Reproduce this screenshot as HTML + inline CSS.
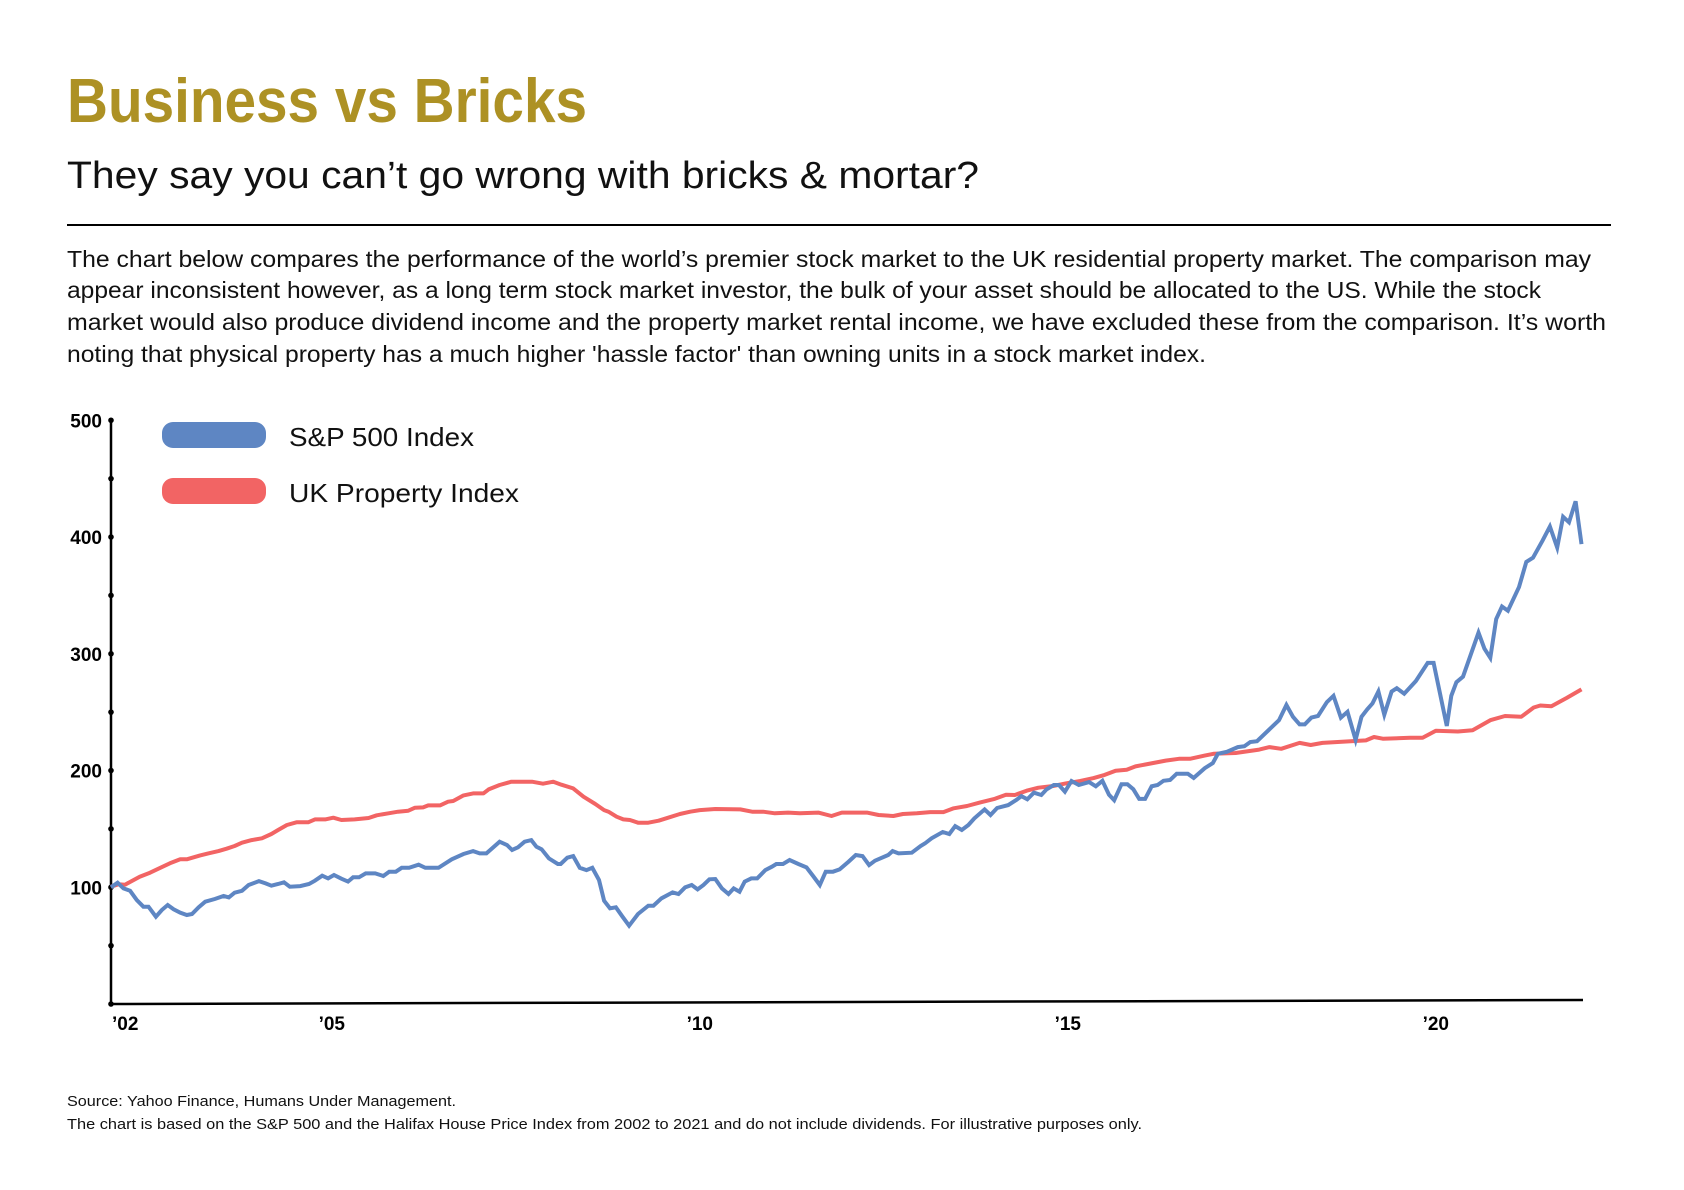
<!DOCTYPE html>
<html><head><meta charset="utf-8"><style>
html,body{margin:0;padding:0;background:#fff;}
svg{display:block;font-family:"Liberation Sans",sans-serif;}
</style></head><body>
<svg id="root" width="1684" height="1190" viewBox="0 0 1684 1190" xmlns="http://www.w3.org/2000/svg">
<rect width="1684" height="1190" fill="#fff"/>
<text x="67" y="122" font-size="62" font-weight="bold" fill="#AD9124" textLength="520" lengthAdjust="spacingAndGlyphs">Business vs Bricks</text>
<text x="67" y="188" font-size="38" fill="#111" textLength="912" lengthAdjust="spacingAndGlyphs">They say you can’t go wrong with bricks &amp; mortar?</text>
<line x1="67" y1="225" x2="1611" y2="225" stroke="#000" stroke-width="2"/>
<g font-size="23" fill="#111">
<text x="67" y="267" textLength="1524" lengthAdjust="spacingAndGlyphs">The chart below compares the performance of the world’s premier stock market to the UK residential property market. The comparison may</text>
<text x="67" y="298" textLength="1474" lengthAdjust="spacingAndGlyphs">appear inconsistent however, as a long term stock market investor, the bulk of your asset should be allocated to the US. While the stock</text>
<text x="67" y="330" textLength="1539" lengthAdjust="spacingAndGlyphs">market would also produce dividend income and the property market rental income, we have excluded these from the comparison. It’s worth</text>
<text x="67" y="362" textLength="1139" lengthAdjust="spacingAndGlyphs">noting that physical property has a much higher 'hassle factor' than owning units in a stock market index.</text>
</g>
<g id="chart"></g>
<g>
<rect x="162" y="422" width="104" height="26" rx="11" fill="#5E86C3"/>
<text x="289" y="446" font-size="26" fill="#111" textLength="185" lengthAdjust="spacingAndGlyphs">S&amp;P 500 Index</text>
<rect x="162" y="478" width="104" height="26" rx="11" fill="#F26464"/>
<text x="289" y="502" font-size="26" fill="#111" textLength="230" lengthAdjust="spacingAndGlyphs">UK Property Index</text>
</g>
<g font-size="15" fill="#111">
<text x="67" y="1106" textLength="389" lengthAdjust="spacingAndGlyphs">Source: Yahoo Finance, Humans Under Management.</text>
<text x="67" y="1129" textLength="1075" lengthAdjust="spacingAndGlyphs">The chart is based on the S&amp;P 500 and the Halifax House Price Index from 2002 to 2021 and do not include dividends. For illustrative purposes only.</text>
</g>
</svg>
<script>
const yTickValues = [100, 200, 300, 400, 500];
const yTickLabels = ["100", "200", "300", "400", "500"];
const xTickYears = [2002, 2005, 2010, 2015, 2020];
const xTickLabels = ["’02", "’05", "’10", "’15", "’20"];
const spYears = [2002.0,2002.09,2002.17,2002.26,2002.35,2002.44,2002.51,2002.61,2002.69,2002.77,2002.85,2002.94,2003.03,2003.10,2003.19,2003.28,2003.41,2003.53,2003.60,2003.68,2003.78,2003.87,2004.01,2004.10,2004.18,2004.27,2004.35,2004.43,2004.57,2004.69,2004.77,2004.87,2004.95,2005.03,2005.13,2005.22,2005.29,2005.37,2005.46,2005.59,2005.70,2005.78,2005.87,2005.95,2006.05,2006.18,2006.27,2006.45,2006.63,2006.79,2006.92,2007.01,2007.10,2007.28,2007.38,2007.45,2007.53,2007.62,2007.71,2007.78,2007.85,2007.95,2008.07,2008.11,2008.20,2008.28,2008.37,2008.46,2008.54,2008.63,2008.70,2008.78,2008.86,2008.95,2009.04,2009.16,2009.30,2009.37,2009.48,2009.63,2009.71,2009.80,2009.89,2009.97,2010.05,2010.13,2010.21,2010.30,2010.39,2010.46,2010.54,2010.61,2010.70,2010.78,2010.89,2010.98,2011.04,2011.13,2011.22,2011.34,2011.45,2011.54,2011.63,2011.71,2011.81,2011.90,2012.02,2012.12,2012.21,2012.30,2012.38,2012.56,2012.62,2012.70,2012.88,2013.0,2013.06,2013.15,2013.30,2013.39,2013.47,2013.56,2013.65,2013.73,2013.87,2013.95,2014.04,2014.19,2014.30,2014.37,2014.45,2014.54,2014.64,2014.71,2014.81,2014.88,2014.96,2015.05,2015.15,2015.29,2015.38,2015.47,2015.56,2015.63,2015.73,2015.81,2015.89,2015.97,2016.05,2016.14,2016.22,2016.30,2016.39,2016.48,2016.63,2016.71,2016.86,2016.97,2017.04,2017.16,2017.31,2017.40,2017.48,2017.57,2017.75,2017.87,2017.97,2018.06,2018.15,2018.22,2018.31,2018.40,2018.52,2018.61,2018.71,2018.80,2018.91,2018.99,2019.07,2019.14,2019.22,2019.30,2019.40,2019.47,2019.57,2019.73,2019.89,2019.97,2020.15,2020.21,2020.28,2020.37,2020.58,2020.66,2020.74,2020.82,2020.90,2020.98,2021.13,2021.23,2021.32,2021.45,2021.55,2021.65,2021.73,2021.81,2021.90,2021.98];
const spValues = [100,103.9,99,97,89,83.3,83.3,74.8,80.5,84.8,81.1,78.2,76.2,77.1,82.8,87.6,89.9,92.5,91.3,95.3,97,101.9,105.3,103.3,101.3,102.8,104.2,100.5,101,102.8,105.6,109.9,107.6,110.5,107.3,104.8,108.5,108.5,111.9,111.9,109.6,113.3,113.3,116.7,116.7,119.3,116.7,116.7,123.9,128.5,131,129,129,139,136.2,131.9,134.2,139,140.4,134.7,132.5,124.7,119.9,119.9,125.3,126.7,116.7,114.7,116.7,106.2,88.5,82,82.8,74.8,67.1,77.1,84.2,84.2,90.5,95.6,94.2,99.9,101.9,98.2,101.9,106.8,107.1,99,94.2,99,96.2,104.8,107.6,107.6,114.7,117.6,119.9,119.9,123.3,119.9,117,109.6,101.9,113.3,113.3,115.3,121.9,127.6,126.7,119,122.7,127.6,131,129,129.6,135.3,137.6,141.9,147.3,145.6,152.4,149,153.3,159,166.7,161.9,167.9,170.4,174.7,178.1,175.3,181,179,183.8,187.6,187.6,181.8,191,187.6,190.1,186.5,191.2,179.3,174.6,188.3,188.3,184,175.7,175.7,186.5,187.6,191.2,191.9,197.3,197.3,193.7,202,206.3,214.3,216,220,220.8,224.4,225.1,235.9,243.1,256.1,246,239.5,239.5,245.3,246.7,258.6,264,245.3,250.3,226.2,246,252.5,257.5,267.7,247.8,267.7,270.5,265.8,276.7,292.2,292.2,238.1,264,275.6,280.3,318.1,304.4,296.5,329.7,340.5,336.9,357.1,378.7,382.3,396.8,409,391,417.3,412.6,430.6,393.9];
const ukYears = [2002.0,2002.1,2002.19,2002.28,2002.39,2002.53,2002.67,2002.80,2002.94,2003.03,2003.21,2003.32,2003.46,2003.57,2003.68,2003.78,2003.91,2004.05,2004.18,2004.27,2004.39,2004.52,2004.68,2004.77,2004.91,2005.02,2005.13,2005.31,2005.5,2005.61,2005.77,2005.9,2006.04,2006.13,2006.24,2006.31,2006.47,2006.58,2006.65,2006.79,2006.92,2007.06,2007.13,2007.28,2007.44,2007.72,2007.87,2008.01,2008.12,2008.28,2008.42,2008.58,2008.70,2008.76,2008.87,2008.96,2009.05,2009.16,2009.30,2009.44,2009.57,2009.73,2009.87,2010.0,2010.21,2010.55,2010.71,2010.86,2011.02,2011.2,2011.36,2011.61,2011.79,2011.93,2012.13,2012.27,2012.43,2012.63,2012.76,2012.95,2013.13,2013.31,2013.45,2013.63,2013.81,2014.01,2014.16,2014.28,2014.44,2014.6,2014.80,2014.98,2015.17,2015.35,2015.50,2015.65,2015.80,2015.92,2016.09,2016.33,2016.51,2016.66,2016.86,2016.98,2017.28,2017.60,2017.74,2017.90,2018.15,2018.30,2018.46,2019.05,2019.16,2019.28,2019.65,2019.82,2020.0,2020.30,2020.50,2020.74,2020.94,2021.16,2021.33,2021.42,2021.57,2021.78,2021.98];
const ukValues = [100.5,102.5,102.2,105.3,109,112.5,116.7,120.5,123.9,123.9,127.3,129,131,133,135.3,138.2,140.4,141.9,145.6,149,153.3,155.6,155.6,158.1,158.1,159.6,157.6,158.1,159.3,161.6,163.3,164.7,165.6,168.1,168.4,170.1,170.1,173.3,173.9,178.7,180.4,180.4,183.8,187.6,190.4,190.4,188.7,190.4,187.8,184.7,177.6,171.3,166.1,164.7,160.4,158.1,157.6,155.3,155.3,157,159.6,162.7,164.7,166.1,167,166.7,164.7,164.7,163.3,163.9,163.3,163.9,161,163.9,163.9,163.9,161.9,161,162.7,163.3,164.4,164.4,167.6,169.6,172.7,175.8,179.3,179,182.7,185.3,186.7,189,191,193.5,196.2,199.8,200.6,203.5,205.6,208.5,210,210,212.8,214.3,215,217.9,220,218.6,223.6,221.8,223.6,225.8,228.7,227.2,228,228,234.1,233.4,234.5,243.1,246.7,246,254,255.7,255,262.2,269.5];

const NS = "http://www.w3.org/2000/svg";
const chart = document.getElementById("chart");
const X0 = 111, X1 = 1583, T0 = 2002, T1 = 2022;
const Y0 = 1004, PX_PER_UNIT = 1.1675;
function xScale(t){ return X0 + (t - T0) * (X1 - X0) / (T1 - T0); }
function yScale(v){ return Y0 - v * PX_PER_UNIT; }
function mk(tag, attrs){ const e = document.createElementNS(NS, tag); for (const k in attrs) e.setAttribute(k, attrs[k]); chart.appendChild(e); return e; }

// axes
const yAxis = mk("line", {x1: X0, y1: yScale(500), x2: X0, y2: Y0, stroke: "#000", "stroke-width": 2.5});


const xAxis = mk("path", {d: `M${X0},${Y0} L${X1},${Y0-4}`, stroke: "#000", "stroke-width": 2.5, fill: "none"});


for (let v = 0; v <= 500; v += 50) {
  const d = mk("circle", {cx: X0, cy: yScale(v), r: 2.8, fill: "#000"});
  
  
}
yTickValues.forEach((v, i) => {
  const t = mk("text", {x: 102, y: yScale(v) + 7, "font-size": 19, "font-weight": "bold", "text-anchor": "end", fill: "#000"});
  t.textContent = yTickLabels[i];
  
  
});
xTickYears.forEach((yr, i) => {
  const first = i === 0;
  const t = mk("text", {x: first ? 112 : xScale(yr), y: 1030, "font-size": 19, "font-weight": "bold", "text-anchor": first ? "start" : "middle", fill: "#000"});
  t.textContent = xTickLabels[i];
  
  
});
function pathFor(ys, vs){ return ys.map((t, i) => (i ? "L" : "M") + xScale(t).toFixed(1) + "," + yScale(vs[i]).toFixed(1)).join(" "); }
const ukLine = mk("path", {d: pathFor(ukYears, ukValues), stroke: "#F26464", "stroke-width": 4, fill: "none", "stroke-linejoin": "round"});


const spLine = mk("path", {d: pathFor(spYears, spValues), stroke: "#5E86C3", "stroke-width": 4, fill: "none", "stroke-linejoin": "miter"});


// red drawn over blue at start like reference? keep blue on top
</script>
</body></html>
